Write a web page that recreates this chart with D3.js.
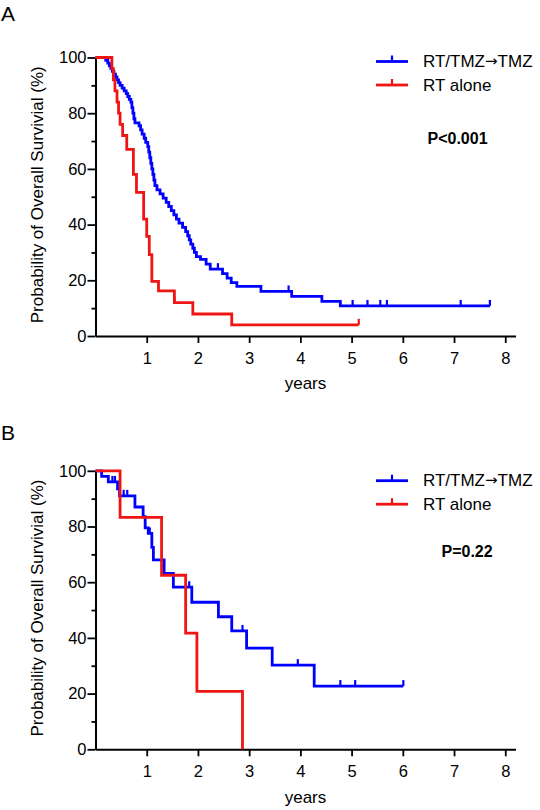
<!DOCTYPE html>
<html><head><meta charset="utf-8">
<script src="https://cdn.jsdelivr.net/npm/d3@7"></script>
<style>body{margin:0;background:#fff}svg{display:block}text{font-family:"Liberation Sans",Arial,sans-serif}</style>
</head><body>
<script>
// ---------- data ----------
const seriesNames = [["RT/TMZ", "\u2192", "TMZ"], ["RT alone", "", ""]];
const yearTicks = [1,2,3,4,5,6,7,8];
const survTicks = [0,20,40,60,80,100];
const survMinorTicks = [10,30,50,70,90];

// Panel A: [years, survival %] step points (last point = end of follow-up)
const aTmz = [[0,100],[0.2,99],[0.24,98],[0.27,97],[0.3,96],[0.33,95],[0.36,94],[0.39,93],[0.42,92],[0.45,91],[0.48,90],[0.52,89],[0.56,88],[0.6,87],[0.63,86],[0.66,85],[0.69,84],[0.71,82],[0.73,80],[0.75,78],[0.77,76.5],[0.85,75.5],[0.88,74],[0.91,72.5],[0.95,71],[0.98,69.5],[1.02,68],[1.04,66],[1.06,64],[1.08,62],[1.1,60],[1.12,58],[1.14,56],[1.16,54],[1.2,52.5],[1.26,51],[1.32,49.5],[1.38,48],[1.43,46.5],[1.48,45],[1.53,43.5],[1.58,42],[1.63,40.5],[1.7,39],[1.76,37.5],[1.8,36],[1.83,34.5],[1.86,33],[1.9,31.5],[1.93,30],[1.97,28.5],[2.05,27.5],[2.16,25.8],[2.24,24],[2.48,22.4],[2.57,20.8],[2.65,19.2],[2.76,17.8],[3.23,16],[3.83,14.2],[4.42,12.4],[4.78,10.8],[7.7,10.8]];
const aTmzCensor = [2.39,3.77,5.02,5.31,5.56,5.69,7.13,7.7];
const aRt = [[0,100],[0.32,96],[0.35,92],[0.38,88],[0.42,84],[0.45,80],[0.48,76],[0.53,72],[0.61,67],[0.74,58],[0.8,51.6],[0.94,42],[1.0,35.8],[1.05,29.2],[1.1,19.6],[1.23,16.2],[1.54,12],[1.9,7.9],[2.66,4],[5.14,4]];
const aRtCensor = [1.54,5.14];
const aP = "P<0.001";

// Panel B
const bTmz = [[0,100],[0.12,98],[0.25,96],[0.43,93.5],[0.47,91],[0.77,87],[0.93,83.5],[0.97,79.5],[1.03,77.5],[1.1,72.5],[1.13,68],[1.34,63.2],[1.52,58.2],[1.88,52.8],[2.4,47.6],[2.66,42.5],[2.95,36.3],[3.45,30.2],[4.27,22.7],[6.01,22.7]];
const bTmzCensor = [0.33,0.38,0.55,0.62,1.06,1.83,2.87,3.95,4.78,5.07,6.01];
const bRt = [[0,100],[0.48,83.3],[1.29,62.5],[1.76,41.7],[1.98,20.8],[2.87,0]];
const bRtCensor = [];
const bP = "P=0.22";

const colors = ["#0000ff", "#f01515"];

// ---------- drawing ----------
const svg = d3.select("body").append("svg").attr("width",540).attr("height",810);

function levelAt(pts, t){ let s = pts[0][1]; for (const p of pts){ if (p[0] <= t) s = p[1]; } return s; }

function panel(o){
  const x = d3.scaleLinear().domain([0,8.2]).range([95.5,515.5]);
  const y = d3.scaleLinear().domain([0,100]).range([o.y0,o.y100]);
  const g = svg.append("g");

  g.append("text").attr("x",1).attr("y",o.letterY).attr("font-size",21).text(o.letter);

  g.append("g").attr("transform",`translate(0,${y(0)})`)
    .call(d3.axisBottom(x).tickValues(yearTicks).tickSize(7).tickSizeOuter(0).tickPadding(9).tickFormat(d3.format("d")));
  g.append("g").attr("transform",`translate(${x(0)},0)`)
    .call(d3.axisLeft(y).tickValues(survTicks).tickSize(8).tickSizeOuter(0).tickPadding(1));
  g.append("g").attr("transform",`translate(${x(0)},0)`)
    .call(d3.axisLeft(y).tickValues(survMinorTicks).tickSize(4).tickSizeOuter(0).tickFormat(""))
    .select(".domain").remove();
  g.selectAll(".domain").attr("stroke","#000").attr("stroke-width",2);
  g.selectAll(".tick line").attr("stroke","#000").attr("stroke-width",1.8);
  g.selectAll(".tick text").attr("font-size",16.5).attr("fill","#000").attr("font-family","Liberation Sans, Arial, sans-serif");

  g.append("text").attr("x",305.5).attr("y",o.xTitleY).attr("text-anchor","middle").attr("font-size",17).text("years");
  g.append("text").attr("transform",`translate(43,${(y(0)+y(100))/2 - 2}) rotate(-90)`).attr("text-anchor","middle").attr("font-size",17).text("Probability of Overall Survivial (%)");

  const line = d3.line().x(d=>x(d[0])).y(d=>y(d[1])).curve(d3.curveStepAfter);
  o.series.forEach((s,i)=>{
    g.append("path").datum(s.pts).attr("d",line).attr("fill","none").attr("stroke",colors[i]).attr("stroke-width",2.8).attr("stroke-linejoin","miter");
    g.selectAll(null).data(s.cens).enter().append("line")
      .attr("x1",d=>x(d)).attr("x2",d=>x(d))
      .attr("y1",d=>y(levelAt(s.pts,d))).attr("y2",d=>y(levelAt(s.pts,d))-6)
      .attr("stroke",colors[i]).attr("stroke-width",2.2);
  });

  // legend
  seriesNames.forEach((n,i)=>{
    const ly = o.legY + i*23.5;
    g.append("line").attr("x1",376).attr("x2",408).attr("y1",ly).attr("y2",ly).attr("stroke",colors[i]).attr("stroke-width",2.8);
    g.append("line").attr("x1",392).attr("x2",392).attr("y1",ly).attr("y2",ly-6).attr("stroke",colors[i]).attr("stroke-width",2.2);
    const t = g.append("text").attr("x",423).attr("y",ly+5.5).attr("font-size",17);
    t.append("tspan").text(n[0]);
    if (n[1]) t.append("tspan").attr("font-family","DejaVu Sans").attr("font-size",15).attr("dy",-1).text(n[1]);
    if (n[2]) t.append("tspan").attr("dy",1).text(n[2]);
  });
  g.append("text").attr("x",o.pX).attr("y",o.pY).attr("font-size",16).attr("font-weight","bold").text(o.p);
}

panel({letter:"A",letterY:21,y0:336,y100:57.5,xTitleY:389,legY:61.5,pX:427.5,pY:144,p:aP,
  series:[{pts:aTmz,cens:aTmzCensor},{pts:aRt,cens:aRtCensor}]});
panel({letter:"B",letterY:440,y0:749.3,y100:470.8,xTitleY:803,legY:480.7,pX:441.5,pY:557,p:bP,
  series:[{pts:bTmz,cens:bTmzCensor},{pts:bRt,cens:bRtCensor}]});
</script>
</body></html>
